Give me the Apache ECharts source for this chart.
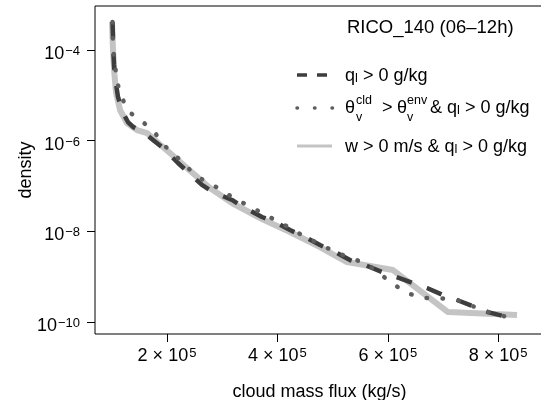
<!DOCTYPE html>
<html>
<head>
<meta charset="utf-8">
<script src="https://cdn.jsdelivr.net/npm/echarts@6/dist/echarts.min.js"></script>
<style>html,body{margin:0;padding:0;background:#fff}#c{width:541px;height:400px}</style>
</head>
<body>
<div id="c"></div>
<script>
// ---- data ----
const xDash = [101300,102700,104000,105800,111200,120300,129300,138400,156500,174600,192800,219900,238000,263400,283300,317800,337700,372100,395700,422800,450000,477200,504300,531500,558700,589500,609400,645700,671000,700000,725400,758000,781500,815900,830400];
const yDash = [4.15e-4,1.0e-4,4.67e-5,2.53e-5,9.17e-6,4.06e-6,2.57e-6,2.0e-6,1.55e-6,1.03e-6,6.87e-7,3.20e-7,2.03e-7,1.05e-7,7.33e-8,4.89e-8,3.42e-8,2.06e-8,1.60e-8,1.06e-8,7.44e-9,4.96e-9,3.47e-9,2.31e-9,1.79e-9,1.26e-9,1.03e-9,7.19e-10,5.57e-10,3.91e-10,3.03e-10,2.12e-10,1.64e-10,1.28e-10,1.10e-10];

const xDot = [101300,102200,109400,118500,131200,156500,178300,198200,219900,241700,265200,292400,317800,344900,372100,395700,422800,450000,477200,504300,533300,562300,585900,609400,634800,663800,692800,725400,758000,781500,815900,830400];
const yDot = [4.15e-4,1.11e-4,1.97e-5,8.71e-6,4.28e-6,2.57e-6,1.47e-6,7.23e-7,4.13e-7,2.25e-7,1.35e-7,8.99e-8,5.69e-8,3.78e-8,2.52e-8,1.77e-8,1.18e-8,7.44e-9,5.21e-9,3.47e-9,2.56e-9,1.89e-9,1.14e-9,6.83e-10,4.32e-10,3.35e-10,3.35e-10,3.03e-10,2.12e-10,1.64e-10,1.28e-10,1.10e-10];

const xSolid = [100400,102200,104900,107600,114900,127500,145700,163800,181900,205400,236200,265200,277900,317800,372100,422800,477200,526100,567800,609400,709100,834100];
const ySolid = [4.15e-4,1.0e-4,2.81e-5,1.18e-5,4.73e-6,2.45e-6,1.71e-6,1.47e-6,9.31e-7,5.32e-7,2.48e-7,1.22e-7,8.99e-8,4.19e-8,1.86e-8,9.59e-9,4.48e-9,2.09e-9,1.71e-9,1.39e-9,1.64e-10,1.41e-10];

const xTicks = [200000, 400000, 600000, 800000];
const yTicks = [1e-10, 1e-8, 1e-6, 1e-4];
const titleText = 'RICO_140 (06–12h)';
const xName = 'cloud mass flux (kg/s)';
const yName = 'density';

// ---- chart ----
const FF = '"Liberation Sans", Arial, Helvetica, sans-serif';
const zip = (a, b) => a.map((v, i) => [v, b[i]]);
const chart = echarts.init(document.getElementById('c'), null, {renderer: 'canvas'});

const richAxis = {
  b: {fontSize: 18, fontFamily: FF, color: '#000', lineHeight: 18, verticalAlign: 'bottom', padding: [6, 0, 0, 0]},
  e: {fontSize: 13, fontFamily: FF, color: '#000', lineHeight: 13, verticalAlign: 'top', padding: [0, 0, 0, 1]}
};

const baseText = {fontSize: 18, fontFamily: FF, fill: '#000'};
const richLeg = {
  s: {fontSize: 13, fontFamily: FF, fill: '#000', lineHeight: 12, verticalAlign: 'bottom'},
  b: {fontSize: 18, fontFamily: FF, fill: '#000', lineHeight: 22}
};

function txt(x, y, text, size) {
  return {type: 'text', x: x, y: y, silent: true,
    style: Object.assign({}, baseText, {text: text, fontSize: size || 18, verticalAlign: 'middle', align: 'left', rich: richLeg})};
}

const option = {
  animation: false,
  backgroundColor: '#fff',
  grid: {left: 95, right: -3, top: 6, bottom: 66, show: true, borderColor: '#000', borderWidth: 1,
    containLabel: false, outerBoundsMode: 'none'},
  xAxis: {
    type: 'value', min: 69565, max: 882973,
    name: xName, nameLocation: 'middle', nameGap: 49, nameMoveOverlap: false,
    nameTextStyle: {fontSize: 18, fontFamily: FF, color: '#000'},
    axisLine: {show: false},
    splitLine: {show: false},
    axisTick: {show: true, length: 8, lineStyle: {color: '#000', width: 1}, customValues: xTicks},
    axisLabel: {
      customValues: xTicks, margin: 13, rich: richAxis,
      formatter: function (v) {
        const ex = Math.floor(Math.log10(v) + 1e-9);
        const m = Math.round(v / Math.pow(10, ex));
        return '{b|' + m + ' × 10}{e|' + ex + '}';
      }
    }
  },
  yAxis: {
    type: 'log', logBase: 10, min: Math.pow(10, -10.269), max: Math.pow(10, -3.029),
    name: yName, nameLocation: 'middle', nameGap: 60, nameRotate: 90, nameMoveOverlap: false,
    nameTextStyle: {fontSize: 18, fontFamily: FF, color: '#000'},
    axisLine: {show: false},
    splitLine: {show: false},
    minorTick: {show: false},
    axisTick: {show: true, length: 8, lineStyle: {color: '#000', width: 1}, customValues: yTicks},
    axisLabel: {
      customValues: yTicks, margin: 15, rich: richAxis, padding: [8, 0, 0, 0],
      formatter: function (v) {
        const ex = Math.round(Math.log10(v));
        return '{b|10}{e|' + (ex < 0 ? '\u2212' : '') + Math.abs(ex) + '}';
      }
    }
  },
  series: [
    {name: 'solid', type: 'line', symbol: 'none', data: zip(xSolid, ySolid), z: 2,
      lineStyle: {color: '#c4c4c4', width: 6, cap: 'butt', join: 'round'}},
    {name: 'dash', type: 'line', symbol: 'none', data: zip(xDash, yDash), z: 3,
      lineStyle: {color: '#3d3d3d', width: 4.5, type: [16, 16], cap: 'butt', join: 'round'}},
    {name: 'dot', type: 'line', symbol: 'none', data: zip(xDot, yDot), z: 4,
      lineStyle: {color: '#5e5e5e', width: 4.5, type: [0.5, 15.5], cap: 'round'}}
  ],
  graphic: [
    txt(347, 28, titleText, 18.5),
    // legend row 1
    {type: 'line', silent: true, shape: {x1: 297, y1: 75, x2: 332, y2: 75},
      style: {stroke: '#3d3d3d', lineWidth: 3.5, lineDash: [10, 10], lineCap: 'butt'}},
    txt(345, 76, 'q{s|l} > 0 g/kg'),
    // legend row 2
    {type: 'line', silent: true, shape: {x1: 297, y1: 108, x2: 332.5, y2: 108},
      style: {stroke: '#5e5e5e', lineWidth: 3.5, lineDash: [0.5, 17], lineCap: 'round'}},
    txt(345, 108, 'θ'),
    txt(356, 101, 'cld', 12.5),
    txt(356, 118, 'v', 12.5),
    txt(382, 108, '>'),
    txt(397, 108, 'θ'),
    txt(407, 101, 'env', 12.5),
    txt(407, 118, 'v', 12.5),
    txt(430, 108, '& q{s|l} > 0 g/kg'),
    // legend row 3
    {type: 'line', silent: true, shape: {x1: 297, y1: 146, x2: 332, y2: 146},
      style: {stroke: '#c4c4c4', lineWidth: 3, lineCap: 'butt'}},
    txt(345, 147, 'w > 0 m/s & q{s|l} > 0 g/kg')
  ]
};
chart.setOption(option);
</script>
</body>
</html>
